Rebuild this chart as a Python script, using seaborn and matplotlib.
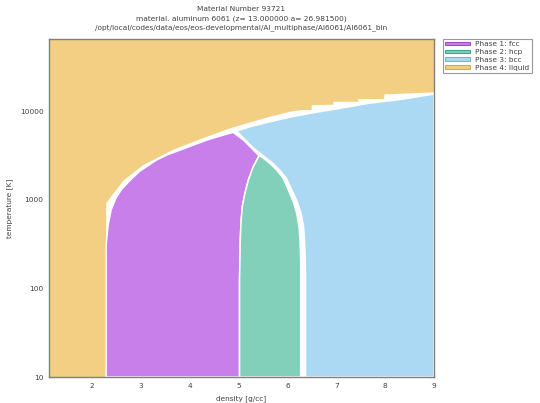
import matplotlib
matplotlib.use("Agg")
import matplotlib.pyplot as plt
import seaborn as sns
from matplotlib.patches import Patch
from matplotlib.ticker import FixedLocator, LogLocator, FuncFormatter, NullFormatter

# ---------------- data ----------------
phase_labels = ["Phase 1: fcc", "Phase 2: hcp", "Phase 3: bcc", "Phase 4: liquid"]
phase_colors = ["#c97fe9", "#82cfba", "#abd9f3", "#f2cf82"]
phase_edges = ["#9b4fc0", "#3fa88a", "#6fb6de", "#d9a94a"]

# Phase 1: fcc boundary (density g/cc, temperature K)
fcc_density = [2.29, 2.29, 2.33, 2.39, 2.49, 2.61, 2.81, 2.98, 3.32, 3.53, 3.80, 4.35, 4.69, 4.89,
               5.10, 5.27, 5.42, 5.30, 5.20, 5.13, 5.076, 5.049, 5.035, 5.029, 5.02, 5.02]
fcc_temp = [10, 308, 518, 764, 1045, 1320, 1720, 2105, 2800, 3190, 3630, 4710, 5360, 5750,
            4710, 3795, 3130, 2355, 1666, 1180, 833, 541, 351, 227, 124, 10]

# Phase 2: hcp boundary
hcp_density = [5.02, 5.02, 5.029, 5.035, 5.049, 5.076, 5.13, 5.20, 5.30, 5.42, 5.47, 5.64,
               5.78, 5.915, 6.02, 6.12, 6.19, 6.237, 6.257, 6.271, 6.271, 6.271]
hcp_temp = [10, 124, 227, 351, 541, 833, 1180, 1666, 2355, 3130, 3053, 2570,
            2160, 1742, 1285, 949, 702, 495, 351, 209, 124, 10]

# Phase 3: bcc boundary
bcc_density = [6.37, 6.37, 6.365, 6.35, 6.33, 6.28, 6.20, 6.09, 5.98, 5.84, 5.70, 5.53, 5.47,
               5.31, 5.14, 4.96, 5.234, 5.643, 6.052, 6.461, 6.734, 7.074, 7.655, 8.304,
               9.00, 9.00]
bcc_temp = [10, 124, 209, 351, 495, 702, 949, 1285, 1742, 2160, 2570, 3053, 3250,
            3795, 4710, 5950, 6650, 7570, 8550, 9420, 10000, 10720, 12220, 13490,
            15560, 10]

# Phase 4: liquid lower boundary (from bottom-left, along the liquidus)
liq_density = [1.12, 2.29, 2.29, 2.44, 2.655, 3.05, 3.66, 4.21, 4.824, 5.234, 5.643,
               6.052, 6.292, 6.496, 6.496, 6.939, 6.939, 7.45, 7.45, 7.982, 7.982, 9.00]
liq_temp = [10, 10, 910, 1180, 1666, 2460, 3650, 4800, 6380, 7450, 8630,
            9820, 10260, 10260, 11670, 11780, 12730, 12730, 13650, 13650, 15420, 16260]

x_range = (1.12, 9.0)
y_range = (10, 65000)
x_ticks = [2, 3, 4, 5, 6, 7, 8, 9]
y_ticks = [10, 100, 1000, 10000]

title_lines = ["Material Number 93721",
               "material. aluminum 6061 (z= 13.000000 a= 26.981500)",
               "/opt/local/codes/data/eos/eos-developmental/Al_multiphase/Al6061/Al6061_bin"]

# ---------------- plot ----------------
sns.set_style("ticks")
plt.rcParams["font.family"] = ["DejaVu Sans"]
txt = "#404040"

fig = plt.figure(figsize=(5.40, 4.03), dpi=100)
ax = fig.add_axes([49 / 540, 1 - 377 / 403, (434 - 49) / 540, (377 - 39) / 403])
ax.set_facecolor("white")

# liquid region: everything above the liquidus
lx = list(liq_density) + [x_range[1], x_range[0]]
ly = list(liq_temp) + [y_range[1], y_range[1]]
ax.fill(lx, ly, color=phase_colors[3], lw=0, zorder=1)

ax.fill(fcc_density, fcc_temp, facecolor=phase_colors[0], edgecolor="white", lw=1.1, zorder=2)
ax.fill(hcp_density, hcp_temp, facecolor=phase_colors[1], edgecolor="white", lw=1.1, zorder=2)
ax.fill(bcc_density, bcc_temp, facecolor=phase_colors[2], edgecolor="white", lw=1.1, zorder=2)

ax.set_yscale("log")
ax.set_xlim(*x_range)
ax.set_ylim(*y_range)

ax.xaxis.set_major_locator(FixedLocator(x_ticks))
ax.xaxis.set_major_formatter(FuncFormatter(lambda v, p: f"{v:g}"))
ax.yaxis.set_major_locator(FixedLocator(y_ticks))
ax.yaxis.set_major_formatter(FuncFormatter(lambda v, p: f"{v:g}"))
ax.yaxis.set_minor_locator(LogLocator(base=10, subs=range(2, 10)))
ax.yaxis.set_minor_formatter(NullFormatter())

ax.tick_params(which="both", direction="in", top=True, right=True, colors="#707070",
               labelcolor=txt, labelsize=5.3, width=0.8, pad=4)
ax.tick_params(which="major", length=4)
ax.tick_params(which="minor", length=2.5)
for s in ax.spines.values():
    s.set_color("#808080")
    s.set_linewidth(1.0)
    s.set_zorder(5)

ax.set_xlabel("density [g/cc]", fontsize=5.3, color=txt, labelpad=5)
ax.set_ylabel("temperature [K]", fontsize=5.3, color=txt, labelpad=5)

cx = (49 + 434) / 2 / 540
for i, line in enumerate(title_lines):
    fig.text(cx, 1 - (9 + 9.5 * i) / 403, line, ha="center", va="center", fontsize=5.3, color=txt)

handles = [Patch(facecolor=c, edgecolor=e, lw=0.8) for c, e in zip(phase_colors, phase_edges)]
leg = fig.legend(handles, phase_labels, loc="upper left",
                 bbox_to_anchor=(443 / 540, 1 - 39 / 403), fontsize=5.3, frameon=True,
                 fancybox=False, borderpad=0.3, labelspacing=0.25, handlelength=3.4,
                 handleheight=0.4, handletextpad=0.7, borderaxespad=0)
leg.get_frame().set_edgecolor("#808080")
leg.get_frame().set_linewidth(0.8)
for t in leg.get_texts():
    t.set_color(txt)

fig.savefig("out.png", dpi=100)
